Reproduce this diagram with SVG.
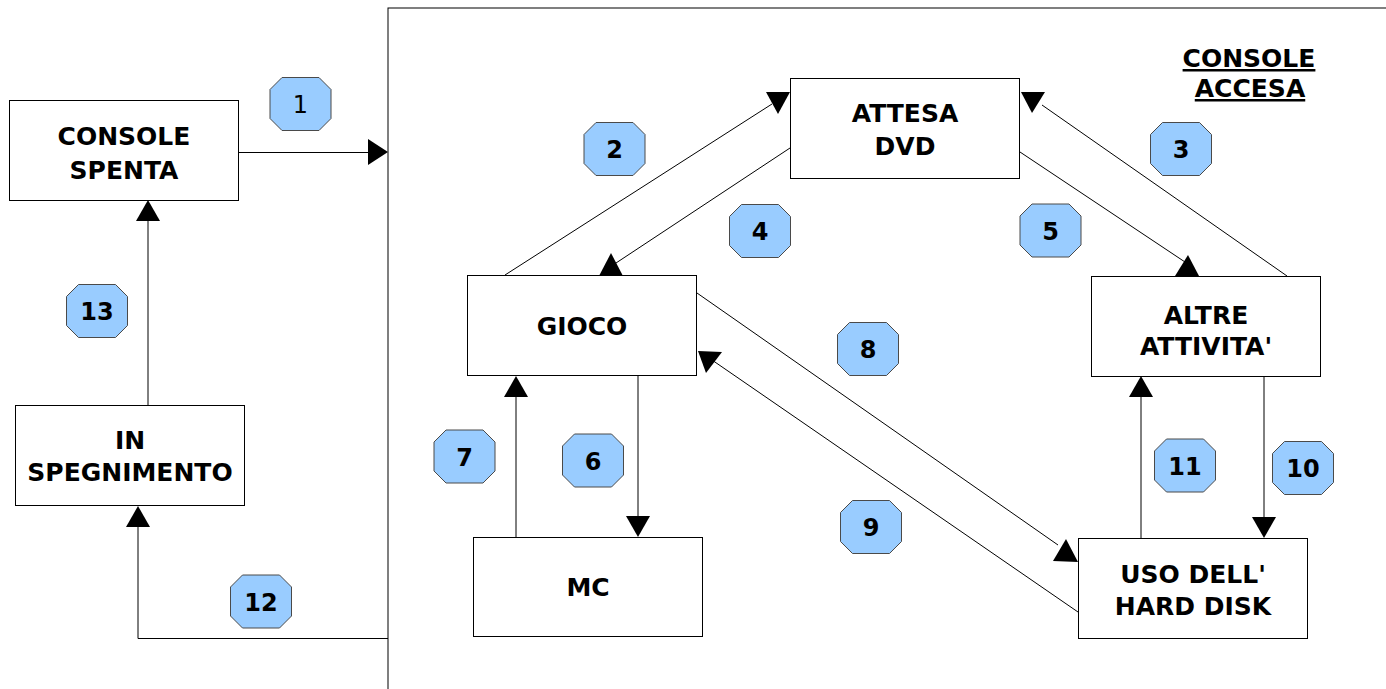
<svg xmlns="http://www.w3.org/2000/svg" xmlns:xlink="http://www.w3.org/1999/xlink" width="1386" height="689" viewBox="0 0 1386 689">
<style>
.box{fill:#fff;stroke:#000;stroke-width:1}
.lbl{font-family:"DejaVu Sans",Verdana,sans-serif;font-weight:bold;font-size:25px;fill:#000;text-anchor:middle}
.num{font-family:"DejaVu Sans",Verdana,sans-serif;font-weight:bold;font-size:24px;fill:#000;text-anchor:middle}
.oct{fill:#99ccff;stroke:#4a4a4a;stroke-width:1}
.ln{fill:none;stroke:#000;stroke-width:1}
.ah{fill:#000;stroke:none}
</style>
<defs>
<polygon id="oct" class="oct" points="-18.5,-26.5 18.5,-26.5 30.5,-14.5 30.5,14.5 18.5,26.5 -18.5,26.5 -30.5,14.5 -30.5,-14.5"/>
</defs>
<rect id="frame" x="388" y="8" width="1010" height="700" fill="none" stroke="#000" stroke-width="1"/>
<g id="title">
<text class="lbl" x="1249" y="67" text-decoration="underline">CONSOLE</text>
<text class="lbl" x="1250" y="97" text-decoration="underline">ACCESA</text>
</g>
<g id="connectors">
<line class="ln" x1="238" y1="152.5" x2="370" y2="152.5"/><polygon class="ah" points="368,139 368,165 388,152"/>
<line class="ln" x1="505" y1="275" x2="772" y2="104"/><polygon class="ah" points="766,92 790,92 778,114"/>
<line class="ln" x1="1287" y1="276" x2="1042" y2="105"/><polygon class="ah" points="1021,92 1045,92 1032,113"/>
<line class="ln" x1="790" y1="148" x2="613" y2="265"/><polygon class="ah" points="599,276 623,276 611,253"/>
<line class="ln" x1="1020" y1="152" x2="1185" y2="262"/><polygon class="ah" points="1175,276 1199,276 1188,255"/>
<line class="ln" x1="638" y1="375" x2="638" y2="518"/><polygon class="ah" points="626,516 650,516 638,537"/>
<line class="ln" x1="516" y1="537" x2="516" y2="395"/><polygon class="ah" points="504,397 528,397 516,376"/>
<line class="ln" x1="697" y1="293" x2="1058" y2="545"/><polygon class="ah" points="1066,539 1053,561 1078,562"/>
<line class="ln" x1="1078" y1="612" x2="712" y2="360"/><polygon class="ah" points="698,351 722,352 706,373"/>
<line class="ln" x1="1264" y1="376" x2="1264" y2="518"/><polygon class="ah" points="1252,517 1276,517 1264,538"/>
<line class="ln" x1="1141" y1="538" x2="1141" y2="396"/><polygon class="ah" points="1129,397 1153,397 1141,376"/>
<polyline class="ln" points="388,638.5 138,638.5 138,526"/><polygon class="ah" points="126,527 150,527 138,506"/>
<line class="ln" x1="148" y1="405" x2="148" y2="220"/><polygon class="ah" points="136,221 160,221 148,200"/>
</g>
<g id="n-spenta"><rect class="box" x="9.5" y="100.5" width="229" height="100"/><text class="lbl" x="124" y="145">CONSOLE</text><text class="lbl" x="124" y="179">SPENTA</text></g>
<g id="n-spegnimento"><rect class="box" x="15.5" y="405.5" width="229" height="100"/><text class="lbl" x="130" y="449">IN</text><text class="lbl" x="130" y="481">SPEGNIMENTO</text></g>
<g id="n-attesa"><rect class="box" x="790.5" y="78.5" width="229" height="100"/><text class="lbl" x="905" y="122">ATTESA</text><text class="lbl" x="905" y="155">DVD</text></g>
<g id="n-gioco"><rect class="box" x="467.5" y="275.5" width="229" height="100"/><text class="lbl" x="582" y="335">GIOCO</text></g>
<g id="n-altre"><rect class="box" x="1091.5" y="276.5" width="229" height="100"/><text class="lbl" x="1206" y="324">ALTRE</text><text class="lbl" x="1206" y="355">ATTIVITA'</text></g>
<g id="n-mc"><rect class="box" x="473.5" y="537.5" width="229" height="99"/><text class="lbl" x="588" y="596">MC</text></g>
<g id="n-hdd"><rect class="box" x="1078.5" y="538.5" width="229" height="100"/><text class="lbl" x="1193" y="583">USO DELL'</text><text class="lbl" x="1193" y="615">HARD DISK</text></g>
<g id="badges">
<g id="b1"><use xlink:href="#oct" x="300.5" y="104"/><text class="num" x="300.5" y="113" style="font-weight:normal">1</text></g>
<g id="b2"><use xlink:href="#oct" x="614.5" y="149"/><text class="num" x="614.5" y="158">2</text></g>
<g id="b3"><use xlink:href="#oct" x="1181" y="149"/><text class="num" x="1181" y="158">3</text></g>
<g id="b4"><use xlink:href="#oct" x="760" y="231"/><text class="num" x="760" y="240">4</text></g>
<g id="b5"><use xlink:href="#oct" x="1050.5" y="230.5"/><text class="num" x="1050.5" y="239.5">5</text></g>
<g id="b6"><use xlink:href="#oct" x="593" y="460.5"/><text class="num" x="593" y="469.5">6</text></g>
<g id="b7"><use xlink:href="#oct" x="464.5" y="456.5"/><text class="num" x="464.5" y="465.5">7</text></g>
<g id="b8"><use xlink:href="#oct" x="868" y="349"/><text class="num" x="868" y="358">8</text></g>
<g id="b9"><use xlink:href="#oct" x="871" y="527"/><text class="num" x="871" y="536">9</text></g>
<g id="b10"><use xlink:href="#oct" x="1303" y="468"/><text class="num" x="1303" y="477">10</text></g>
<g id="b11"><use xlink:href="#oct" x="1185" y="465.5"/><text class="num" x="1185" y="474.5">11</text></g>
<g id="b12"><use xlink:href="#oct" x="261" y="601.5"/><text class="num" x="261" y="610.5">12</text></g>
<g id="b13"><use xlink:href="#oct" x="97" y="311"/><text class="num" x="97" y="320">13</text></g>
</g>
</svg>
